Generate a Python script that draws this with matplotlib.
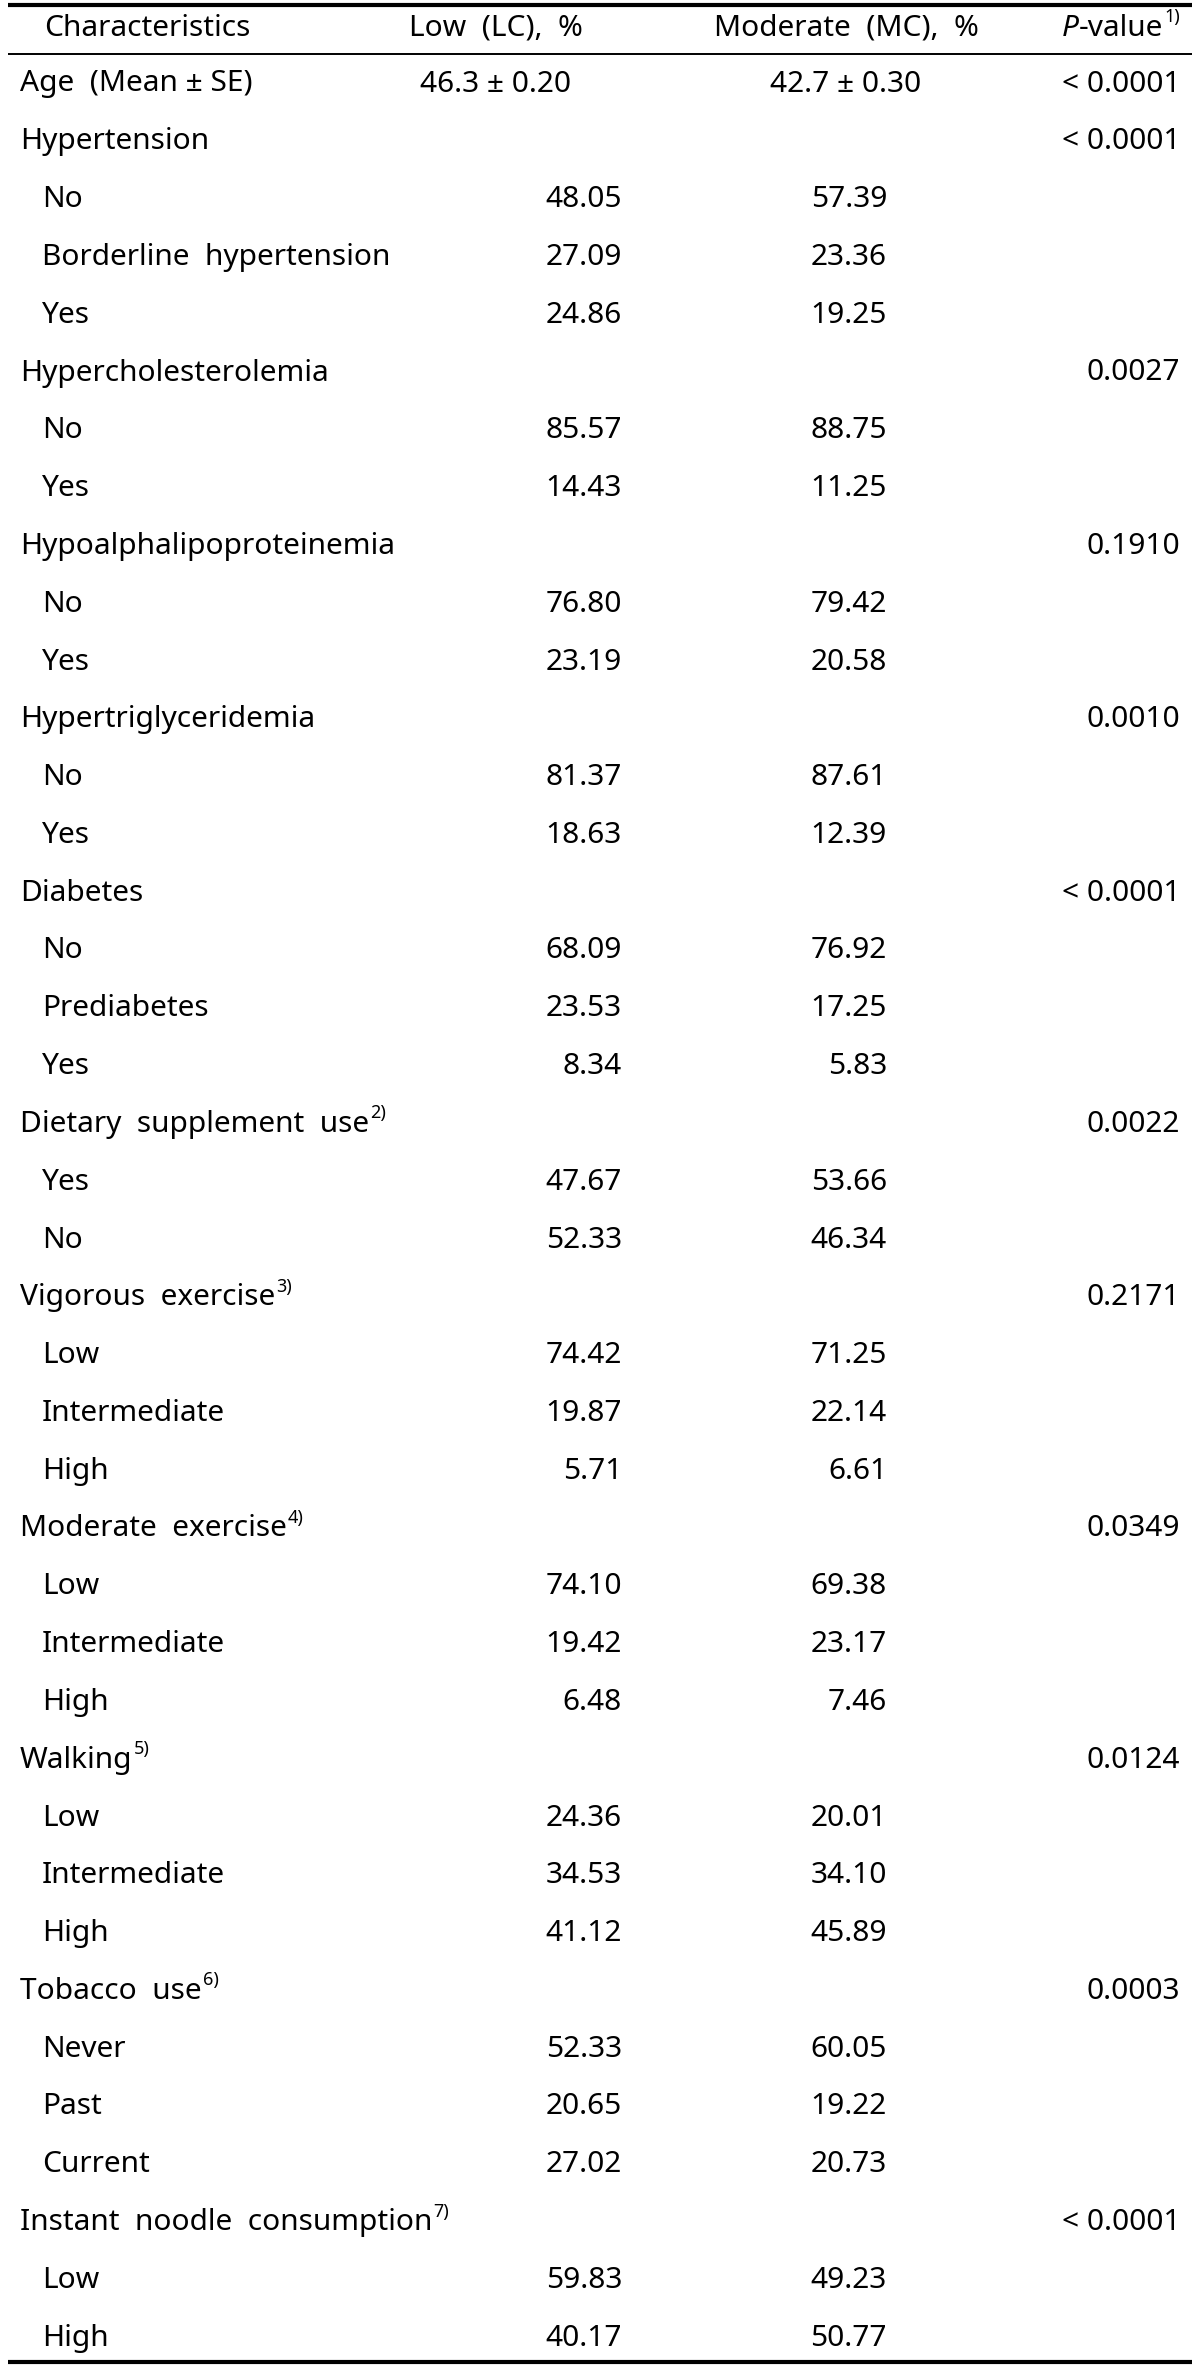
import matplotlib.pyplot as plt

plt.rcParams['font.family'] = ['Noto Sans', 'DejaVu Sans']

headers = ["Characteristics", "Low  (LC),  %", "Moderate  (MC),  %"]

characteristics = [
    "Age  (Mean ± SE)", "Hypertension", "No", "Borderline  hypertension", "Yes",
    "Hypercholesterolemia", "No", "Yes",
    "Hypoalphalipoproteinemia", "No", "Yes",
    "Hypertriglyceridemia", "No", "Yes",
    "Diabetes", "No", "Prediabetes", "Yes",
    "Dietary  supplement  use", "Yes", "No",
    "Vigorous  exercise", "Low", "Intermediate", "High",
    "Moderate  exercise", "Low", "Intermediate", "High",
    "Walking", "Low", "Intermediate", "High",
    "Tobacco  use", "Never", "Past", "Current",
    "Instant  noodle  consumption", "Low", "High",
]
is_sub = [
    0, 0, 1, 1, 1,
    0, 1, 1,
    0, 1, 1,
    0, 1, 1,
    0, 1, 1, 1,
    0, 1, 1,
    0, 1, 1, 1,
    0, 1, 1, 1,
    0, 1, 1, 1,
    0, 1, 1, 1,
    0, 1, 1,
]
notes = [
    "", "", "", "", "",
    "", "", "",
    "", "", "",
    "", "", "",
    "", "", "", "",
    "2)", "", "",
    "3)", "", "", "",
    "4)", "", "", "",
    "5)", "", "", "",
    "6)", "", "", "",
    "7)", "", "",
]
low_lc = [
    "46.3 ± 0.20", "", "48.05", "27.09", "24.86",
    "", "85.57", "14.43",
    "", "76.80", "23.19",
    "", "81.37", "18.63",
    "", "68.09", "23.53", "8.34",
    "", "47.67", "52.33",
    "", "74.42", "19.87", "5.71",
    "", "74.10", "19.42", "6.48",
    "", "24.36", "34.53", "41.12",
    "", "52.33", "20.65", "27.02",
    "", "59.83", "40.17",
]
moderate_mc = [
    "42.7 ± 0.30", "", "57.39", "23.36", "19.25",
    "", "88.75", "11.25",
    "", "79.42", "20.58",
    "", "87.61", "12.39",
    "", "76.92", "17.25", "5.83",
    "", "53.66", "46.34",
    "", "71.25", "22.14", "6.61",
    "", "69.38", "23.17", "7.46",
    "", "20.01", "34.10", "45.89",
    "", "60.05", "19.22", "20.73",
    "", "49.23", "50.77",
]
p_values = [
    "< 0.0001", "< 0.0001", "", "", "",
    "0.0027", "", "",
    "0.1910", "", "",
    "0.0010", "", "",
    "< 0.0001", "", "", "",
    "0.0022", "", "",
    "0.2171", "", "", "",
    "0.0349", "", "", "",
    "0.0124", "", "", "",
    "0.0003", "", "", "",
    "< 0.0001", "", "",
]

W, H = 1200, 2378
fig = plt.figure(figsize=(W / 100, H / 100), dpi=100)
ax = fig.add_axes([0, 0, 1, 1])
ax.set_xlim(0, W)
ax.set_ylim(H, 0)
ax.axis('off')

fs = 21.5
fs_sup = 13
row0 = 84
step = 57.8
renderer = fig.canvas.get_renderer()
inv = ax.transData.inverted()


def right_edge(t):
    bb = t.get_window_extent(renderer)
    return inv.transform((bb.x1, bb.y0))[0]


def left_edge(t):
    bb = t.get_window_extent(renderer)
    return inv.transform((bb.x0, bb.y0))[0]


# rules
ax.plot([8, 1192], [5, 5], color='black', lw=3, solid_capstyle='butt')
ax.plot([8, 1192], [54, 54], color='black', lw=1.4, solid_capstyle='butt')
ax.plot([8, 1192], [2362, 2362], color='black', lw=3, solid_capstyle='butt')

# header
hy = 28
ax.text(147, hy, headers[0], fontsize=fs, ha='center', va='center')
ax.text(496, hy, headers[1], fontsize=fs, ha='center', va='center')
ax.text(846, hy, headers[2], fontsize=fs, ha='center', va='center')
ts = ax.text(1180, hy - 11, "1)", fontsize=fs_sup, ha='right', va='center')
tv = ax.text(left_edge(ts) - 1, hy, "-value", fontsize=fs, ha='right', va='center')
ax.text(left_edge(tv), hy, "P", fontsize=fs, style='italic', ha='right', va='center')

for i, name in enumerate(characteristics):
    y = row0 + i * step
    x = 42 if is_sub[i] else 20
    t = ax.text(x, y, name, fontsize=fs, ha='left', va='center')
    if notes[i]:
        ax.text(right_edge(t) + 1, y - 11, notes[i], fontsize=fs_sup, ha='left', va='center')
    if i == 0:
        ax.text(496, y, low_lc[i], fontsize=fs, ha='center', va='center')
        ax.text(846, y, moderate_mc[i], fontsize=fs, ha='center', va='center')
    else:
        ax.text(622, y, low_lc[i], fontsize=fs, ha='right', va='center')
        ax.text(887, y, moderate_mc[i], fontsize=fs, ha='right', va='center')
    ax.text(1180, y, p_values[i], fontsize=fs, ha='right', va='center')

fig.savefig("out.png", dpi=100)
